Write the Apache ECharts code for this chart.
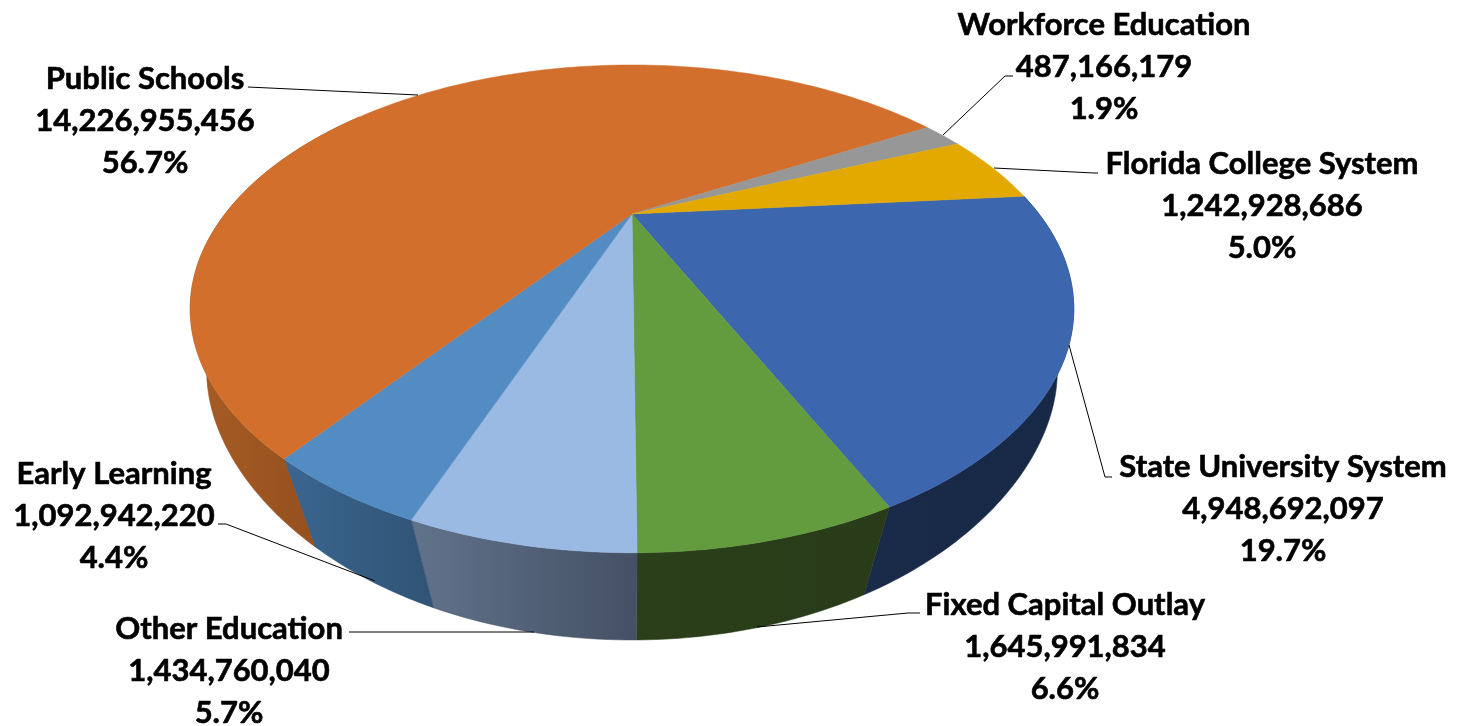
<!DOCTYPE html>
<html>
<head>
<meta charset="utf-8">
<title>Education funding</title>
<script src="https://cdn.jsdelivr.net/npm/echarts@6/dist/echarts.min.js"></script>
<style>
    html, body { margin: 0; padding: 0; background: #fff; }
    #chart { width: 1458px; height: 726px; }
</style>
</head>
<body>
<div id="chart"></div>
<script>
// clockwise, starting from the State University slice
const names = ['State University System', 'Fixed Capital Outlay', 'Other Education', 'Early Learning', 'Public Schools', 'Workforce Education', 'Florida College System'];
const values = [4948692097, 1645991834, 1434760040, 1092942220, 14226955456, 487166179, 1242928686];
const topColors = ['#3c66ae', '#639c3f', '#9ab9e3', '#538cc2', '#d36f2c', '#979797', '#e3a900'];
const wallColors = [['#192a4a', '#182947'], ['#2b3f1b', '#293b18'], ['#61738c', '#445064'], ['#3b6690', '#2f5374'], ['#a85c24', '#8d4b1c'], ['#6f6f6f', '#6f6f6f'], ['#a87d00', '#a87d00']];

// label centres and leader lines, same order as names
const labelX = [1283, 1065, 229, 114, 145, 1104, 1262];
const labelY = [509, 647, 671, 516, 121, 67, 206];
const leaders = [
    [[1112, 477], [1105, 477], [1069, 345]],
    [[920, 613], [908, 613], [757, 627]],
    [[349, 632], [534, 632]],
    [[218, 524], [226, 524], [375, 581]],
    [[248, 87], [418, 95]],
    [[1013, 76], [1005, 76], [943, 135]],
    [[1098, 173], [1094, 173], [994, 168]]
];

const total = values.reduce((a, b) => a + b, 0);
const startAngle = -5.1;
const toAngle = (v) => (v / total) * 360;

// the tilted disc is a projective map of the unit circle
const cx = 632, cy = 214, ax = 407, ay = 207, k = 0.389;
const vanishY = 1380, depth = 0.072, sideBulge = 0.056;

function project(deg, bottom) {
    const a = deg * Math.PI / 180;
    const u = Math.cos(a), v = Math.sin(a);
    const w = 1 - k * v;
    const h = bottom ? depth : 0;
    // lower rim sits a little wider at the sides than pure perspective gives
    const side = bottom ? 1 + sideBulge * Math.pow(1 - v * v, 2) : 1;
    return [
        (cx * w + ax * u * side + h * cx) / (w + h),
        (cy * w + ay * v + h * vanishY) / (w + h)
    ];
}

function arc(from, to, bottom) {
    let pts = [];
    const n = Math.max(2, Math.ceil(Math.abs(to - from)));
    for (let i = 0; i <= n; i++) {
        pts.push(project(from + (to - from) * i / n, bottom));
    }
    return pts;
}

function sliceRange(i) {
    let from = startAngle;
    for (let j = 0; j < i; j++) {
        from += toAngle(values[j]);
    }
    return [from, from + toAngle(values[i])];
}

const seriesData = names.map((name, i) => ({ name: name, value: values[i] }));

const option = {
    animation: false,
    series: [
        {
            type: 'custom',
            coordinateSystem: 'none',
            silent: true,
            z: 1,
            data: seriesData,
            renderItem(params) {
                const i = params.dataIndex;
                const r = sliceRange(i);
                // only the front part of the wall can be seen
                const from = Math.max(r[0], -6), to = Math.min(r[1], 215);
                if (to <= from) return { type: 'group', children: [] };
                const pts = arc(from, to, false).concat(arc(to, from, true));
                const fill = new echarts.graphic.LinearGradient(0, 0, 1, 0, [
                    { offset: 0, color: wallColors[i][0] },
                    { offset: 1, color: wallColors[i][1] }
                ]);
                return {
                    type: 'polygon',
                    shape: { points: pts },
                    style: { fill: fill, stroke: wallColors[i][1], lineWidth: 0.5 }
                };
            }
        },
        {
            type: 'custom',
            coordinateSystem: 'none',
            silent: true,
            z: 2,
            data: seriesData,
            renderItem(params) {
                const i = params.dataIndex;
                const r = sliceRange(i);
                const pts = [[cx, cy]].concat(arc(r[0], r[1], false));
                return {
                    type: 'polygon',
                    shape: { points: pts },
                    style: { fill: topColors[i], stroke: topColors[i], lineWidth: 0.5 }
                };
            }
        },
        {
            type: 'custom',
            coordinateSystem: 'none',
            silent: true,
            z: 3,
            data: seriesData,
            renderItem(params) {
                const i = params.dataIndex;
                const pct = (values[i] / total * 100).toFixed(1) + '%';
                return {
                    type: 'group',
                    children: [
                        {
                            type: 'polyline',
                            shape: { points: leaders[i] },
                            style: { fill: null, stroke: '#000', lineWidth: 1 }
                        },
                        {
                            type: 'text',
                            x: labelX[i],
                            y: labelY[i],
                            style: {
                                text: names[i] + '\n' + values[i].toLocaleString('en-US') + '\n' + pct,
                                align: 'center',
                                verticalAlign: 'middle',
                                fill: '#000',
                                stroke: '#000',
                                lineWidth: 0.6,
                                font: 'bold 31px Lato',
                                lineHeight: 42
                            }
                        }
                    ]
                };
            }
        }
    ]
};

const myChart = echarts.init(document.getElementById('chart'), null, { renderer: 'canvas' });
myChart.setOption(option);
</script>
</body>
</html>
